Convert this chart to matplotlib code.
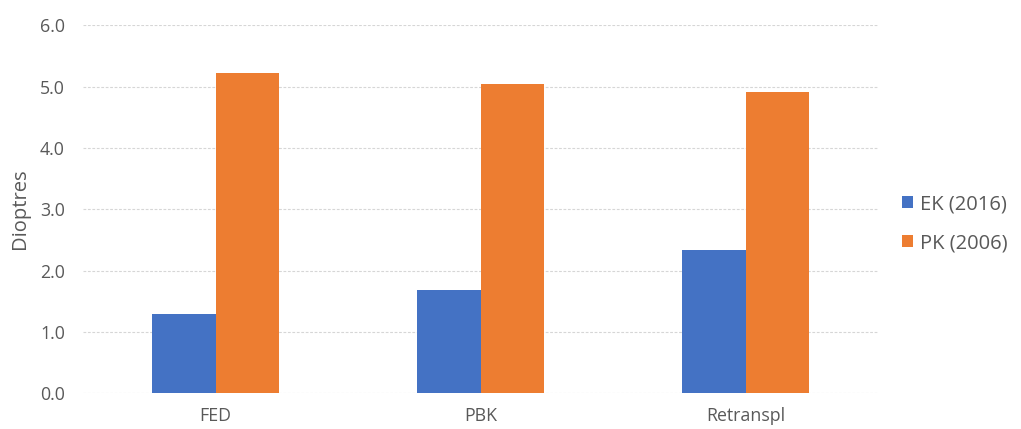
import matplotlib
matplotlib.use("Agg")
import matplotlib.pyplot as plt
import numpy as np

categories = ["FED", "PBK", "Retranspl"]
ek_2016 = [1.30, 1.68, 2.34]
pk_2006 = [5.22, 5.04, 4.92]
series_labels = ["EK (2016)", "PK (2006)"]
yticks = [0.0, 1.0, 2.0, 3.0, 4.0, 5.0, 6.0]

blue = "#4472C4"
orange = "#ED7D31"
text_gray = "#595959"

plt.rcParams["font.family"] = ["Open Sans", "DejaVu Sans"]

fig = plt.figure(figsize=(10.21, 4.29), dpi=100)
ax = fig.add_axes([0.0813, 0.0832, 0.7787, 0.8578])

x = np.arange(len(categories))
w = 0.24
ax.bar(x - w / 2, ek_2016, width=w, color=blue, label=series_labels[0], zorder=3)
ax.bar(x + w / 2, pk_2006, width=w, color=orange, label=series_labels[1], zorder=3)

ax.set_xlim(-0.5, len(categories) - 0.5)
ax.set_ylim(0, 6)
ax.set_yticks(yticks)
ax.set_yticklabels([f"{v:.1f}" for v in yticks])
ax.set_xticks(x)
ax.set_xticklabels(categories)

ax.grid(axis="y", color="#D6D6D6", linestyle=(0, (2.5, 1.5)), linewidth=0.8, zorder=0)
for s in ax.spines.values():
    s.set_visible(False)
ax.tick_params(axis="both", length=0, colors=text_gray, labelsize=12.8)
ax.tick_params(axis="y", pad=13)
ax.tick_params(axis="x", pad=10)

fig.text(0.0195, 0.513, "Dioptres", rotation=90, color=text_gray, fontsize=14.5,
         ha="center", va="center")

leg = fig.legend(loc="center left", bbox_to_anchor=(0.883, 0.478), frameon=False,
                 fontsize=14.5, handlelength=0.55, handleheight=0.55,
                 handletextpad=0.35, labelspacing=0.95, borderpad=0,
                 borderaxespad=0)
for t in leg.get_texts():
    t.set_color(text_gray)

fig.savefig("out.png", dpi=100)
